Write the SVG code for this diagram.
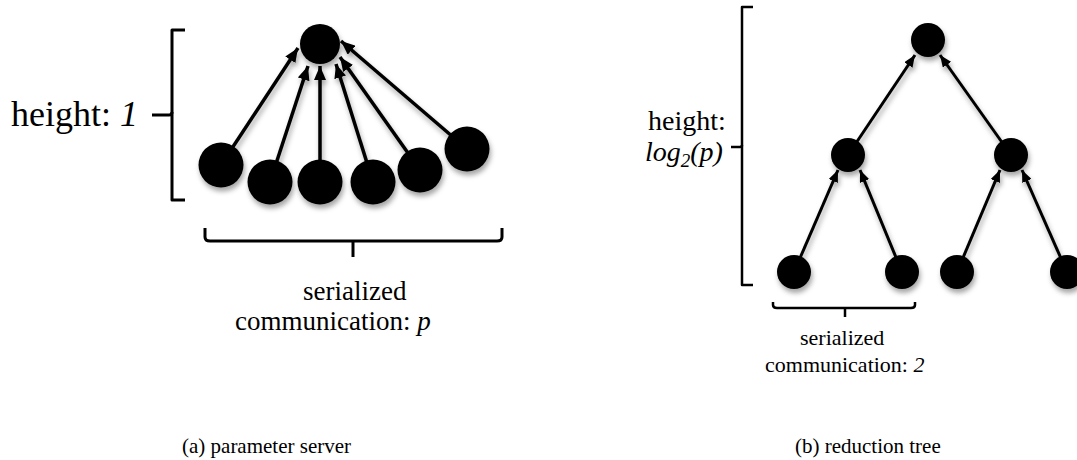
<svg xmlns="http://www.w3.org/2000/svg" width="1077" height="460" viewBox="0 0 1077 460">
<style>
.t{font-family:"Liberation Serif","Times New Roman",serif;fill:#000}
.i{font-style:italic}
.node{fill:#000}
.edge{stroke:#000;fill:none}
.brk{stroke:#000;fill:none;stroke-linecap:butt;stroke-linejoin:round}
</style>
<defs>
<filter id="sh" x="-30%" y="-30%" width="160%" height="170%">
<feDropShadow dx="1.5" dy="4" stdDeviation="2.5" flood-color="#000" flood-opacity="0.35"/>
</filter>
<marker id="ahL" markerUnits="userSpaceOnUse" viewBox="0 0 14 12" refX="14" refY="6" markerWidth="14" markerHeight="12" orient="auto">
<path d="M0,0 L14,6 L0,12 z" fill="#000"/>
</marker>
<marker id="ahR" markerUnits="userSpaceOnUse" viewBox="0 0 12 10" refX="12" refY="5" markerWidth="12" markerHeight="10" orient="auto">
<path d="M0,0 L12,5 L0,10 z" fill="#000"/>
</marker>
</defs>
<rect width="1077" height="460" fill="#fff"/>

<!-- Left: parameter server -->
<g id="ps-edges" filter="url(#sh)">
<g class="edge" stroke-width="3.5" marker-end="url(#ahL)">
<line x1="221" y1="165" x2="298" y2="48"/>
<line x1="270" y1="182" x2="308" y2="66"/>
<line x1="320" y1="182" x2="320" y2="66"/>
<line x1="373" y1="182" x2="336" y2="64"/>
<line x1="420" y1="170" x2="340" y2="57"/>
<line x1="467" y1="149" x2="341" y2="41"/>
</g>
</g>
<g id="ps-server" filter="url(#sh)"><circle class="node" cx="320" cy="44" r="20"/></g>
<g id="ps-w1" filter="url(#sh)"><circle class="node" cx="221" cy="165" r="22.5"/></g>
<g id="ps-w2" filter="url(#sh)"><circle class="node" cx="270" cy="182" r="22.5"/></g>
<g id="ps-w3" filter="url(#sh)"><circle class="node" cx="320" cy="182" r="22.5"/></g>
<g id="ps-w4" filter="url(#sh)"><circle class="node" cx="373" cy="182" r="22.5"/></g>
<g id="ps-w5" filter="url(#sh)"><circle class="node" cx="420" cy="170" r="22.5"/></g>
<g id="ps-w6" filter="url(#sh)"><circle class="node" cx="467" cy="149" r="22.5"/></g>

<g id="ps-height">
<path class="brk" stroke-width="3" d="M185,30 H172 V200 H185"/>
<path class="brk" stroke-width="3" d="M152,115 H169 Q172,115 172,112"/>
<text class="t" x="11" y="126" font-size="36">height: <tspan class="i">1</tspan></text>
</g>
<g id="ps-serial">
<path class="brk" stroke-width="3" d="M205,228 V237 Q205,241 210,241 H497 Q502,241 502,237 V228"/>
<path class="brk" stroke-width="3" d="M353,241 V257"/>
<text class="t" x="303" y="300" font-size="27">serialized</text>
<text class="t" x="235" y="330" font-size="27">communication: <tspan class="i">p</tspan></text>
</g>
<text class="t" x="182" y="453" font-size="21">(a)  parameter server</text>

<!-- Right: reduction tree -->
<g id="tree-edges" filter="url(#sh)">
<g class="edge" stroke-width="3" marker-end="url(#ahR)">
<line x1="848" y1="155" x2="915" y2="55"/>
<line x1="1011" y1="155" x2="940" y2="55"/>
<line x1="794" y1="272" x2="838" y2="170"/>
<line x1="902" y1="272" x2="860" y2="170"/>
<line x1="957" y1="272" x2="1000" y2="170"/>
<line x1="1067" y1="272" x2="1022" y2="170"/>
</g>
</g>
<g id="tree-root" filter="url(#sh)"><circle class="node" cx="928" cy="40" r="17"/></g>
<g id="tree-m1" filter="url(#sh)"><circle class="node" cx="848" cy="155" r="17"/></g>
<g id="tree-m2" filter="url(#sh)"><circle class="node" cx="1011" cy="155" r="17"/></g>
<g id="tree-l1" filter="url(#sh)"><circle class="node" cx="794" cy="272" r="17"/></g>
<g id="tree-l2" filter="url(#sh)"><circle class="node" cx="902" cy="272" r="17"/></g>
<g id="tree-l3" filter="url(#sh)"><circle class="node" cx="957" cy="272" r="17"/></g>
<g id="tree-l4" filter="url(#sh)"><circle class="node" cx="1067" cy="272" r="17"/></g>

<g id="tree-height">
<path class="brk" stroke-width="2.5" d="M753,7 H742 V285 H753"/>
<path class="brk" stroke-width="2.5" d="M731,147 H740 Q742,147 742,145"/>
<text class="t" x="648" y="130" font-size="28">height:</text>
<text class="t i" x="645" y="161" font-size="28">log<tspan font-size="19" dy="6">2</tspan><tspan dy="-6">(p)</tspan></text>
</g>
<g id="tree-serial">
<path class="brk" stroke-width="2.5" d="M773,302 V305 Q773,308 777,308 H911 Q915,308 915,305 V302"/>
<path class="brk" stroke-width="2.5" d="M845,308 V317"/>
<text class="t" x="800" y="345" font-size="22">serialized</text>
<text class="t" x="765" y="372" font-size="22">communication: <tspan class="i">2</tspan></text>
</g>
<text class="t" x="795" y="453" font-size="21">(b)  reduction tree</text>
</svg>
